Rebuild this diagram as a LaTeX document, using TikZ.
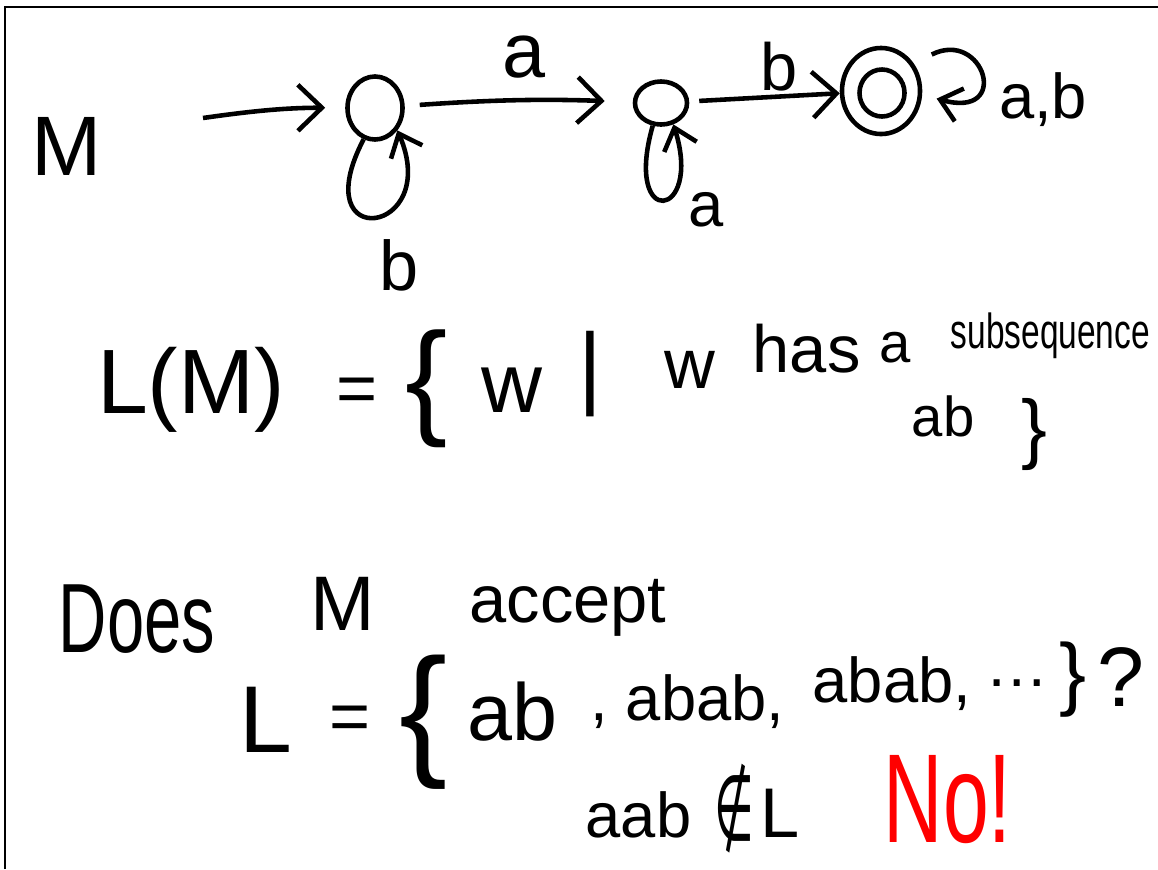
\documentclass[tikz,border=0pt]{standalone}
\usepackage{fontspec}
\setmainfont{Liberation Sans}
\newfontfamily\symfont{DejaVu Sans}
\usepackage{graphicx}
\usetikzlibrary{positioning,arrows.meta,shapes.geometric}
\definecolor{inkred}{HTML}{FF0000}
\tikzset{
  hw/.style={inner sep=0pt, font=\fontsize{#1}{#1}\selectfont},
  state/.style={ellipse, draw, line width=1.3pt, inner sep=0pt},
  edge/.style={-{Straight Barb[length=2.4mm,width=4.6mm]}, line width=1.3pt},
  loopedge/.style={-{Straight Barb[length=2mm,width=3.4mm]}, line width=1.3pt},
}

\begin{document}
\begin{tikzpicture}[x=0.01cm, y=-0.01cm]
  \useasboundingbox (0,0) rectangle (1158,869);
  \coordinate (tl) at (5,7);
  \draw[line width=0.6pt] (5,869) -- (tl) -- (1158,7);

  % automaton M
  \node[hw=24] (M) at (67,146) {M};
  \coordinate (start) at (203,118);
  \node[state, minimum width=0.55cm, minimum height=0.63cm] (q0) at (375,108) {};
  \node[state, minimum width=0.52cm, minimum height=0.43cm] (q1) at (661,103) {};
  \node[state, minimum width=0.78cm, minimum height=0.86cm] (q2) at (881,91) {};
  \node[state, minimum width=0.45cm, minimum height=0.47cm] (q2in) at (882,93) {};
  \draw[edge, shorten >=2mm] (start) to[bend left=4] (q0);
  \draw[edge, shorten <=1.5mm, shorten >=2.8mm] (q0) to[bend left=3] (q1);
  \draw[edge, shorten <=1mm] (q1) -- (q2);
  \node[hw=22] (la) at (524,57) {a};
  \node[hw=19] (lb) at (779,67) {b};
  \draw[loopedge] (q0.250) .. controls +(-60,115) and +(45,105) .. (q0.315);
  \node[hw=20] (lb0) at (399,265) {b};
  \draw[loopedge] (q1.250) .. controls +(-30,105) and +(30,95) .. (q1.300);
  \node[hw=18] (la1) at (706,210) {a};
  \draw[loopedge, shorten <=2mm, shorten >=1.5mm] (q2.40) .. controls +(70,-35) and +(90,25) .. (q2.-5);
  \node[hw=18] (lab2) at (1043,100) {a,b};

  % L(M)
  \node[hw=26] (LM) at (191,390) {L(M)};
  \node[hw=20] (eq1) at (357,395) {=};
  \node[hw=36] (lb1) at (427,389) {\{};
  \node[hw=24] (w1) at (512,390) {w};
  \node[hw=26] (bar) at (590,374) {|};
  \node[hw=20, anchor=base west] (w2) at (664,388) {w};
  \node[hw=19, anchor=base west] (has) at (752,372) {has};
  \node[hw=16, anchor=base west] (a2) at (879,362) {a};
  \node[hw=14, anchor=base west] (subseq) at (950,348) {\scalebox{0.68}[1]{subsequence}};
  \node[hw=16, anchor=base] (ab1) at (943,436) {ab};
  \node[hw=22] (rb1) at (1034,434) {\}};

  % question
  \node[hw=28, anchor=base west] (does) at (58,652) {\scalebox{0.68}[1]{Does}};
  \node[hw=22, anchor=base] (M2) at (343,630) {M};
  \node[hw=19, anchor=base west] (accept) at (469,622) {accept};
  \node[hw=27, anchor=base] (L2) at (266,752) {L};
  \node[hw=20] (eq2) at (350,723) {=};
  \node[hw=41] (lb2) at (424,722) {\{};
  \node[hw=23, anchor=base west] (ab2) at (467,740) {ab};
  \node[hw=18, anchor=base west] (rest1) at (590,720) {, abab,};
  \node[hw=18, anchor=base west] (rest2) at (812,702) {abab,};
  \node[hw=18, anchor=base west] (dots) at (985,686) {\ldots};
  \node[hw=23] (rb2) at (1073,680) {\}};
  \node[hw=24] (qm) at (1121,677) {?};

  % answer
  \node[hw=18, anchor=base west] (aab) at (585,837) {aab};
  \node[hw=26, anchor=base west] (notin) at (714,840) {\symfont\scalebox{0.5}[1]{∉}};
  \node[hw=20, anchor=base west] (L3) at (760,837) {L};
  \node[hw=36, anchor=base west, text=inkred] (no) at (883,842) {\scalebox{0.65}[1]{No!}};
\end{tikzpicture}
\end{document}
